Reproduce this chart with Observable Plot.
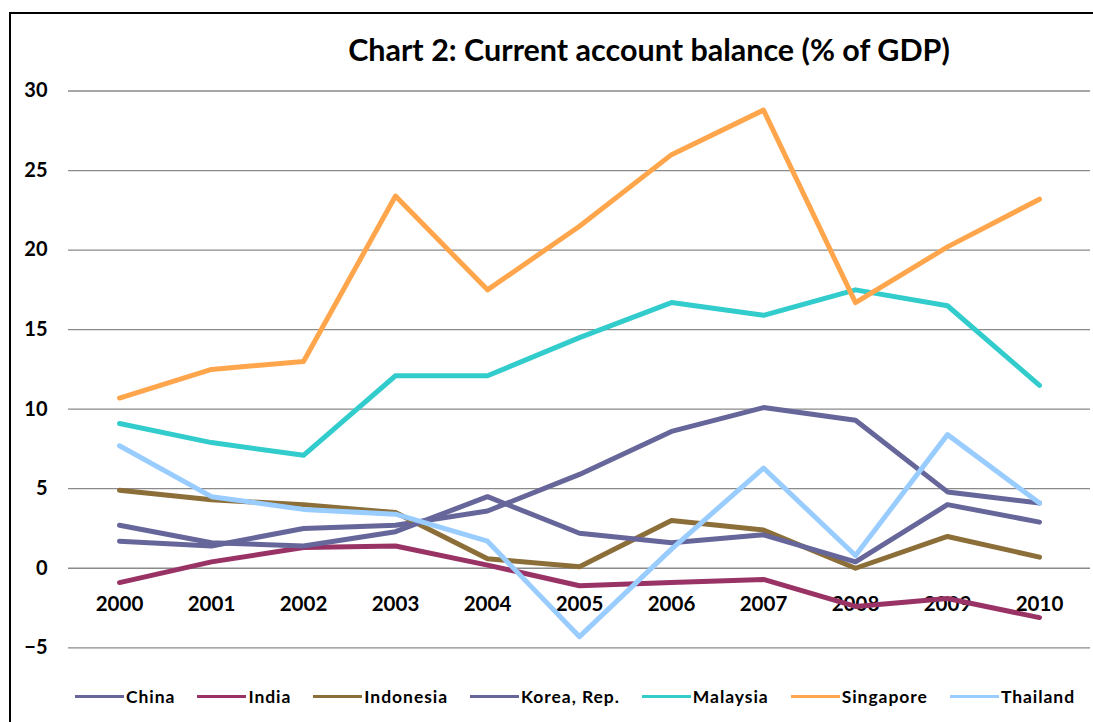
<!DOCTYPE html>
<html>
<head>
<meta charset="utf-8">
<script src="https://cdn.jsdelivr.net/npm/d3@7"></script>
<script src="https://cdn.jsdelivr.net/npm/@observablehq/plot@0.6"></script>
<style>
  html, body { margin: 0; padding: 0; background: #fff; }
  #wrap { position: relative; width: 1093px; height: 722px; overflow: hidden; font-family: Lato, "Open Sans", sans-serif; }
  #frame { position: absolute; left: 9px; top: 12px; width: 1200px; height: 800px; border-left: 2.5px solid #000; border-top: 2.5px solid #000; }
  #title { position: absolute; left: 0; width: 1093px; top: 31px; padding-left: 205px; box-sizing: border-box; text-align: center; font-size: 30.5px; font-weight: 700; color: #000; white-space: nowrap; }
  #chart { position: absolute; left: 0; top: 70px; }
  #legend { position: absolute; left: 75px; top: 686px; display: flex; align-items: center; gap: 22px; font-size: 17.5px; font-weight: 700; letter-spacing: 0.95px; color: #000; white-space: nowrap; }
  .item { display: flex; align-items: center; }
  .sw { width: 49px; height: 3px; margin-right: 2px; }
</style>
</head>
<body>
<div id="wrap">
  <div id="frame"></div>
  <div id="title">Chart 2: Current account balance (% of GDP)</div>
  <div id="chart"></div>
  <div id="legend"></div>
</div>
<script>
const years = [2000, 2001, 2002, 2003, 2004, 2005, 2006, 2007, 2008, 2009, 2010];
const china     = [1.7, 1.4, 2.5, 2.7, 3.6, 5.9, 8.6, 10.1, 9.3, 4.8, 4.1];
const india     = [-0.9, 0.4, 1.3, 1.4, 0.2, -1.1, -0.9, -0.7, -2.4, -1.9, -3.1];
const indonesia = [4.9, 4.3, 4.0, 3.5, 0.6, 0.1, 3.0, 2.4, 0.0, 2.0, 0.7];
const korea     = [2.7, 1.6, 1.4, 2.3, 4.5, 2.2, 1.6, 2.1, 0.4, 4.0, 2.9];
const malaysia  = [9.1, 7.9, 7.1, 12.1, 12.1, 14.5, 16.7, 15.9, 17.5, 16.5, 11.5];
const singapore = [10.7, 12.5, 13.0, 23.4, 17.5, 21.5, 26.0, 28.8, 16.7, 20.2, 23.2];
const thailand  = [7.7, 4.5, 3.7, 3.4, 1.7, -4.3, 1.2, 6.3, 0.8, 8.4, 4.1];
const seriesNames  = ["China", "India", "Indonesia", "Korea, Rep.", "Malaysia", "Singapore", "Thailand"];
const seriesValues = [china, india, indonesia, korea, malaysia, singapore, thailand];
const seriesColors = ["#66669a", "#993366", "#8c6e38", "#66669a", "#33cccc", "#ffa64d", "#99ccff"];
const yTicks = [-5, 0, 5, 10, 15, 20, 25, 30];

const rows = seriesNames.flatMap((name, i) =>
  years.map((year, j) => ({name, year: String(year), value: seriesValues[i][j]}))
);

const chart = Plot.plot({
  width: 1093,
  height: 600,
  marginLeft: 68,
  marginRight: 3,
  marginTop: 20.5,
  marginBottom: 22.7,
  style: {fontFamily: "Lato, 'Open Sans', sans-serif", background: "transparent"},
  x: {type: "point", domain: years.map(String), padding: 0.5, axis: null},
  y: {domain: [-5, 30], axis: null},
  color: {domain: seriesNames, range: seriesColors},
  marks: [
    Plot.ruleY(yTicks, {stroke: "#8a8a8a", strokeWidth: 1.3}),
    Plot.axisY(yTicks, {tickSize: 0, tickPadding: 21, fontSize: 20, fontWeight: "bold", fill: "#000", label: null}),
    Plot.text(years.map(String), {x: d => d, y: () => 0, dy: 36.5, fontSize: 20.5, fontWeight: "bold", fill: "#000"}),
    Plot.line(rows, {x: "year", y: "value", z: "name", stroke: "name", strokeWidth: 5, strokeLinejoin: "round", strokeLinecap: "round"})
  ]
});
document.getElementById("chart").appendChild(chart);

const legend = document.getElementById("legend");
seriesNames.forEach((name, i) => {
  const item = document.createElement("div");
  item.className = "item";
  const sw = document.createElement("div");
  sw.className = "sw";
  sw.style.background = seriesColors[i];
  const label = document.createElement("span");
  label.textContent = name;
  item.appendChild(sw);
  item.appendChild(label);
  legend.appendChild(item);
});
</script>
</body>
</html>
